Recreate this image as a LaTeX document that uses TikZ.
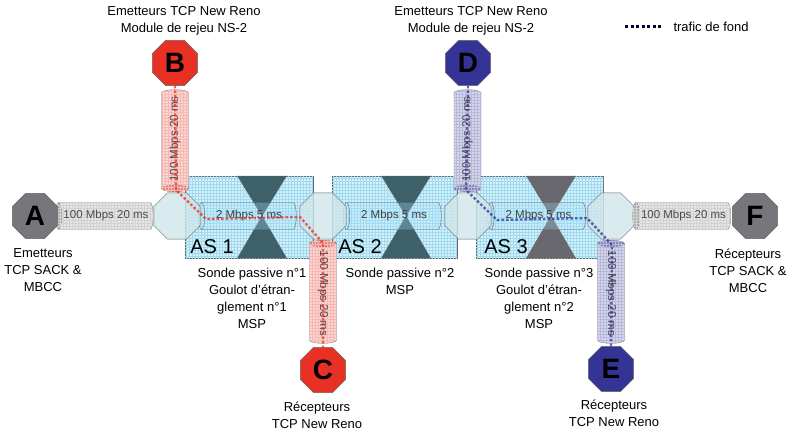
\documentclass[tikz,border=0pt]{standalone}
\usepackage{fontspec}
\setmainfont{Liberation Sans}
\usepackage{xcolor}
\usepackage{tikz}
\usetikzlibrary{shapes.geometric,patterns,positioning}

\definecolor{rouge}{RGB}{232,48,36}
\definecolor{bleu}{RGB}{52,52,150}
\definecolor{gris}{RGB}{118,118,124}
\definecolor{cyanas}{RGB}{214,240,250}
\definecolor{grillecyan}{RGB}{160,218,240}
\definecolor{routeurc}{RGB}{208,230,234}
\definecolor{sablier}{RGB}{62,96,106}
\definecolor{sabliergris}{RGB}{104,104,110}

\tikzset{
  hote/.style={regular polygon, regular polygon sides=8, minimum size=49, inner sep=0pt, draw=black!60, font=\fontsize{28}{28}\selectfont\bfseries},
  routeur/.style={regular polygon, regular polygon sides=8, minimum size=50, inner sep=0pt, draw=black!60, fill=routeurc, fill opacity=.8},
  lien/.style={cylinder, shape border rotate=180, aspect=.6, draw=black!55, minimum width=27, minimum height=98, inner sep=0pt, cylinder uses custom fill, cylinder body fill=#1!20, cylinder end fill=#1!60, postaction={pattern=grid, pattern color=#1!35}, font=\fontsize{11.5}{11.5}\selectfont, text=black!70},
  interne/.style={cylinder, shape border rotate=180, aspect=.6, draw=black!60, fill=cyan!35, fill opacity=.3, text opacity=1, minimum width=27, minimum height=98, inner sep=0pt, font=\fontsize{11.5}{11.5}\selectfont, text=black!75},
  asbox/.style={draw=black!60, fill=cyanas, postaction={pattern=grid, pattern color=grillecyan}},
  fond/.style={line width=2.4pt, dash pattern=on 2.6pt off 2pt, draw=#1, opacity=.75},
  txt/.style={align=center, font=\fontsize{13}{17}\selectfont},
  astxt/.style={font=\fontsize{20}{20}\selectfont}
}

\begin{document}
\begin{tikzpicture}[x=1pt,y=-1pt]
\useasboundingbox (0,0) rectangle (789,433);

\draw[asbox] (185,176) rectangle (313,258);
\draw[asbox] (332,176) rectangle (457,258);
\draw[asbox] (476,176) rectangle (603,258);

\foreach \x/\c in {262/sablier, 406/sablier, 551/sabliergris}{
  \fill[\c, draw=black!60] (\x-24.5,176) -- (\x+24.5,176) -- (\x,216) -- cycle;
  \fill[\c, draw=black!60] (\x,216) -- (\x-24.5,258) -- (\x+24.5,258) -- cycle;
}

\node[interne] (l1) at (249,216) {2 Mbps 5 ms};
\node[interne] (l2) at (394,216) {2 Mbps 5 ms};
\node[interne] (l3) at (538.5,216) {2 Mbps 5 ms};

\node[routeur] (R1) at (177,216) {};
\node[routeur] (R2) at (323,216) {};
\node[routeur] (R3) at (468,216) {};
\node[routeur] (R4) at (611,216) {};

\node[lien=gray] (lA) at (106,216) {100 Mbps 20 ms};
\node[lien=gray] (lF) at (683.5,216) {100 Mbps 20 ms};
\node[lien=rouge, minimum height=102, rotate=90] (lB) at (175,139) {100 Mbps 20 ms};
\node[lien=bleu, minimum height=102, rotate=90] (lD) at (467.5,139) {100 Mbps 20 ms};
\node[lien=rouge, minimum height=103, rotate=-90] (lC) at (323,293.5) {100 Mbps 20 ms};
\node[lien=bleu, minimum height=103, rotate=-90] (lE) at (611,293.5) {100 Mbps 20 ms};

\node[hote, fill=gris] (A) at (35,216) {A};
\node[hote, fill=gris] (F) at (755,216) {F};
\node[hote, fill=rouge] (B) at (175,63) {B};
\node[hote, fill=bleu] (D) at (468,63) {D};
\node[hote, fill=rouge] (C) at (323,370) {C};
\node[hote, fill=bleu] (E) at (611,369) {E};

\draw[fond=rouge] (B.south) -- (176,190) -- (206,219) -- (300,217) -- (323,243) -- (C.north);
\draw[fond=bleu] (D.south) -- (466,190) -- (497,220) -- (587,218) -- (612,245) -- (E.north);

\node[astxt] (as1) at (212,247) {AS 1};
\node[astxt] (as2) at (360,247) {AS 2};
\node[astxt] (as3) at (506,247) {AS 3};

\node[txt] (tB) at (184,21) {Emetteurs TCP New Reno\\Module de rejeu NS-2};
\node[txt] (tD) at (471,21) {Emetteurs TCP New Reno\\Module de rejeu NS-2};
\node[txt] (tA) at (43,270) {Emetteurs\\TCP SACK \&\\MBCC};
\node[txt] (tF) at (748,271) {Récepteurs\\TCP SACK \&\\MBCC};
\node[txt] (s1) at (252,298) {Sonde passive n°1\\Goulot d'étran-\\glement n°1\\MSP};
\node[txt] (s2) at (400,281.5) {Sonde passive n°2\\MSP};
\node[txt] (s3) at (539,298) {Sonde passive n°3\\Goulot d'étran-\\glement n°2\\MSP};
\node[txt] (tC) at (317,415) {Récepteurs\\TCP New Reno};
\node[txt] (tE) at (614,413.5) {Récepteurs\\TCP New Reno};

\coordinate (g1) at (625,27);
\coordinate (g2) at (662,27);
\draw[line width=3pt, dash pattern=on 3pt off 2.5pt, black!80!blue] (g1) -- (g2);
\node[txt, anchor=west] (tfond) at (670,27) {trafic de fond};
\end{tikzpicture}
\end{document}
